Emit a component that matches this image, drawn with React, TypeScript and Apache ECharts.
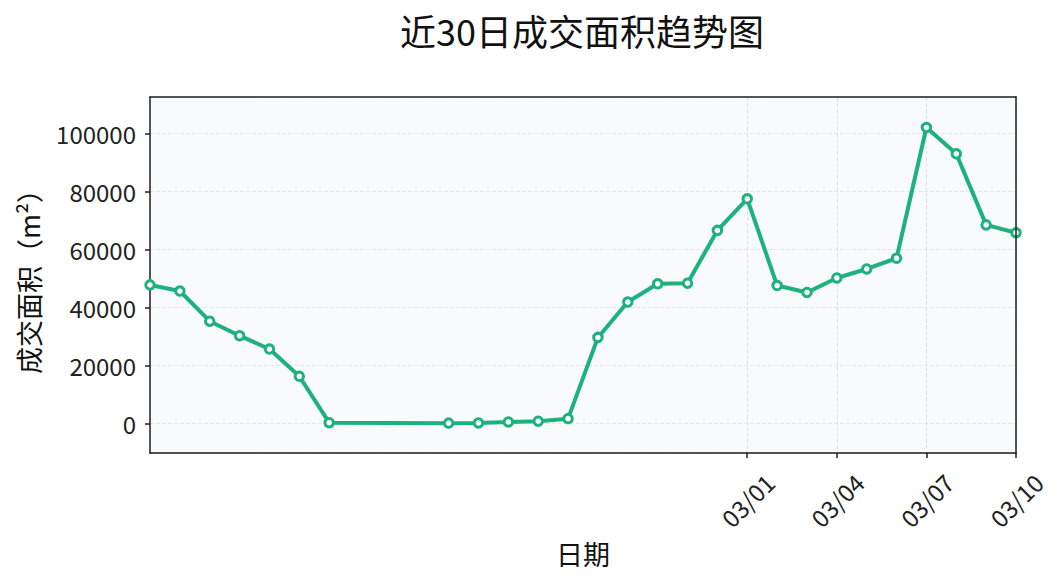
import React, { useEffect, useRef } from "react";
import * as echarts from "echarts";

const dates = [
  "02/09", "02/10", "02/11", "02/12", "02/13", "02/14", "02/15",
  "02/16", "02/17", "02/18", "02/19", "02/20", "02/21", "02/22",
  "02/23", "02/24", "02/25", "02/26", "02/27", "02/28",
  "03/01", "03/02", "03/03", "03/04", "03/05", "03/06", "03/07",
  "03/08", "03/09", "03/10",
];

const areas: (number | null)[] = [
  47800, 45700, 35300, 30300, 25700, 16300, 300,
  null, null, null, 150, 200, 550, 800,
  1700, 29700, 41900, 48200, 48400, 66600,
  77500, 47600, 45200, 50200, 53300, 57000, 102100,
  93000, 68500, 65800,
];

const tickDates = ["03/01", "03/04", "03/07", "03/10"];

const FONT = "'Noto Sans CJK SC', 'Noto Sans', sans-serif";
const GREEN = "#1db17e";
const FRAME = "#1e1e1e";

export default function App() {
  const ref = useRef<HTMLDivElement>(null);
  useEffect(() => {
    if (!ref.current) return;
    const chart = echarts.init(ref.current, undefined, { renderer: "svg" });
    const showIdx = (i: number) => tickDates.includes(dates[i]);
    const frameAxis = {
      axisLine: { show: true, onZero: false, lineStyle: { color: FRAME, width: 1.5 } },
      axisTick: { show: false },
      axisLabel: { show: false },
      splitLine: { show: false },
      z: 10,
    };
    chart.setOption({
      animation: false,
      backgroundColor: "#ffffff",
      title: {
        text: "近30日成交面积趋势图",
        left: 582,
        textAlign: "center",
        top: 12,
        padding: 0,
        textStyle: { fontFamily: FONT, fontSize: 36, fontWeight: "normal", color: "#111" },
      },
      grid: {
        left: 150,
        right: 48,
        top: 97,
        bottom: 132,
        show: true,
        backgroundColor: "#f8fafc",
        borderWidth: 0,
      },
      xAxis: [
        {
          type: "category",
          data: dates,
          boundaryGap: false,
          name: "日期",
          nameLocation: "middle",
          nameGap: 87,
          nameTextStyle: { fontFamily: FONT, fontSize: 27, color: "#111", verticalAlign: "top" },
          axisLine: { show: true, onZero: false, lineStyle: { color: FRAME, width: 1.5 } },
          axisTick: {
            show: true,
            length: 5,
            interval: (i: number) => showIdx(i),
            lineStyle: { color: FRAME, width: 1.5 },
          },
          axisLabel: {
            interval: (i: number) => showIdx(i),
            rotate: 45,
            align: "center",
            verticalAlign: "middle",
            margin: 47,
            fontFamily: FONT,
            fontSize: 24,
            color: "#222",
          },
          splitLine: {
            show: true,
            interval: (i: number) => showIdx(i),
            lineStyle: { color: "#e0e0e0", type: "dashed", width: 1 },
          },
        },
        {
          type: "category",
          data: dates,
          boundaryGap: false,
          position: "top",
          ...frameAxis,
        },
      ],
      yAxis: [
        {
          type: "value",
          min: -10150,
          max: 112600,
          splitNumber: 6,
          name: "成交面积（m²）",
          nameLocation: "middle",
          nameGap: 108,
          nameRotate: 90,
          nameTextStyle: { fontFamily: FONT, fontSize: 27, color: "#111" },
          axisLine: { show: true, lineStyle: { color: FRAME, width: 1.5 } },
          axisTick: { show: true, length: 5, lineStyle: { color: FRAME, width: 1.5 } },
          axisLabel: {
            showMinLabel: false,
            showMaxLabel: false,
            margin: 14,
            fontFamily: FONT,
            fontSize: 24,
            color: "#222",
            formatter: (v: number) => String(v),
          },
          splitLine: { show: true, lineStyle: { color: "#e6e6e6", type: "dashed", width: 1 } },
        },
        {
          type: "value",
          min: -10150,
          max: 112600,
          position: "right",
          ...frameAxis,
        },
      ],
      series: [
        {
          type: "line",
          data: areas,
          connectNulls: true,
          symbol: "circle",
          symbolSize: 8.5,
          lineStyle: { color: GREEN, width: 4 },
          itemStyle: { color: "#ffffff", borderColor: GREEN, borderWidth: 3 },
          z: 5,
        },
      ],
    });
    return () => chart.dispose();
  }, []);
  return (
    <div
      ref={ref}
      style={{ position: "fixed", left: 0, top: 0, width: 1064, height: 585 }}
    />
  );
}
